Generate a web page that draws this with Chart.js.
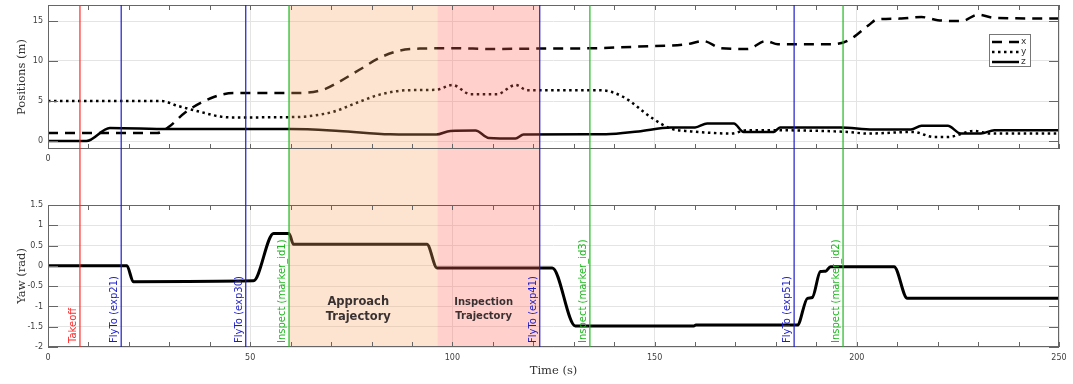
<!DOCTYPE html>
<html>
<head>
<meta charset="utf-8">
<script src="https://cdn.jsdelivr.net/npm/chart.js@4.4.1/dist/chart.umd.min.js"></script>
<style>
  html, body { margin: 0; padding: 0; background: #fff; }
  #wrap { position: relative; width: 1073px; height: 384px; }
  canvas { position: absolute; left: 0; }
  #posChart { top: 0; }
  #yawChart { top: 175px; }
</style>
</head>
<body>
<div id="wrap">
  <canvas id="posChart" width="1073" height="175"></canvas>
  <canvas id="yawChart" width="1073" height="209"></canvas>
</div>
<script>
// positions (m)
var tX   = [0, 27, 30, 34, 41, 46, 62, 68, 72, 77, 82, 87, 92, 100, 110, 121, 135, 146, 158, 162, 166.5, 173, 177.5, 180.5, 194, 198, 203, 205, 211, 216, 220, 226, 230, 234, 250];
var posX = [1, 1, 1.8, 3.6, 5.5, 6, 6, 6.4, 7.4, 8.9, 10.4, 11.3, 11.55, 11.6, 11.5, 11.55, 11.6, 11.8, 12.1, 12.5, 11.6, 11.5, 12.5, 12.1, 12.1, 12.6, 14.5, 15.2, 15.3, 15.5, 15.1, 15.0, 15.8, 15.4, 15.3];

var tY   = [0, 28, 32, 37.6, 42.6, 46, 62, 66, 70.5, 77, 82, 89, 96, 100, 104.5, 111, 115.6, 118.5, 136.6, 142.3, 149, 154, 159, 163, 168.8, 173, 179.5, 197.7, 202.7, 214, 219, 222.5, 229, 233, 250];
var posY = [5, 5, 4.4, 3.65, 3.05, 2.95, 3.0, 3.2, 3.65, 4.9, 5.8, 6.35, 6.4, 7.0, 5.85, 5.85, 7.0, 6.35, 6.35, 5.5, 3.0, 1.55, 1.2, 1.05, 0.93, 1.34, 1.34, 1.13, 0.93, 1.13, 0.5, 0.5, 1.26, 0.93, 0.93];

var tZ   = [0, 9.5, 15.3, 30, 60, 72, 84.6, 96, 99.5, 105.7, 109, 115.6, 117.6, 138, 146, 154, 160, 163, 169.6, 172, 179.5, 181, 196, 204, 213.4, 216, 222.5, 225.7, 230.7, 234, 250];
var posZ = [0, 0, 1.63, 1.5, 1.5, 1.26, 0.84, 0.8, 1.26, 1.3, 0.38, 0.3, 0.8, 0.85, 1.2, 1.68, 1.7, 2.2, 2.2, 1.14, 1.14, 1.68, 1.68, 1.43, 1.43, 1.9, 1.9, 0.93, 0.93, 1.34, 1.34];

// yaw (rad)
var tYaw = [0, 19.5, 21.1, 50.8, 55.8, 59.6, 60.7, 93.7, 96.2, 124.7, 130.4, 159.7, 160.2, 185.3, 187.8, 189, 191, 192.3, 193.5, 209.2, 212.5, 250];
var yaw  = [0, 0, -0.39, -0.37, 0.8, 0.8, 0.53, 0.53, -0.05, -0.05, -1.48, -1.48, -1.46, -1.46, -0.8, -0.78, -0.14, -0.13, -0.02, -0.02, -0.8, -0.8];

// mission events and phases
var eventTimes = [7.9, 18.1, 48.9, 59.6, 121.6, 134.0, 184.5, 196.6];
var eventNames = ['Takeoff', 'FlyTo (exp21)', 'FlyTo (exp30)', 'Inspect (marker_id1)', 'FlyTo (exp41)', 'Inspect (marker_id3)', 'FlyTo (exp51)', 'Inspect (marker_id2)'];
var phaseStart = [59.6, 96.3];
var phaseEnd   = [96.3, 121.6];
var phaseNames = [['Approach', 'Trajectory'], ['Inspection', 'Trajectory']];

// tick labels
var posTicks = [0, 5, 10, 15];
var topTimeLabels = [0];
var timeLabels = [0, 50, 100, 150, 200, 250];

var phaseFill = ['rgba(248,165,98,0.3)', 'rgba(255,98,85,0.3)'];
var phaseFont = ['bold 11.5px "DejaVu Sans"', 'bold 10px "DejaVu Sans"'];
var tickFont = { family: 'DejaVu Sans', size: 8 };
var titleFont = { family: 'DejaVu Serif', size: 11.5 };
var gridCol = '#e4e4e4';

function pts(t, v) {
    return t.map(function (ti, i) { return { x: ti, y: v[i] }; });
}

function eventColor(name) {
    if (name.indexOf('Takeoff') === 0) return '#ff2a2a';
    if (name.indexOf('FlyTo') === 0) return '#1c1ccc';
    return '#1fb81f';
}

function line(c, x0, y0, x1, y1) {
    c.beginPath(); c.moveTo(x0, y0); c.lineTo(x1, y1); c.stroke();
}

function overlay(isTop) {
    return {
        id: 'overlay',
        afterDatasetsDraw: function (chart) {
            var c = chart.ctx, a = chart.chartArea;
            var xs = chart.scales.x, ys = chart.scales.y;
            var y0 = isTop ? a.top : 0;
            var y1 = isTop ? chart.height : a.bottom;
            c.save();

            // shaded phases
            for (var i = 0; i < phaseStart.length; i++) {
                var p0 = xs.getPixelForValue(phaseStart[i]);
                var p1 = xs.getPixelForValue(phaseEnd[i]);
                c.fillStyle = phaseFill[i];
                c.fillRect(p0, y0, p1 - p0, y1 - y0);
            }

            // axes box + inner ticks
            c.strokeStyle = '#666';
            c.lineWidth = 1;
            c.strokeRect(a.left + 0.5, a.top + 0.5, a.right - a.left - 1, a.bottom - a.top - 1);
            xs.ticks.forEach(function (t) {
                var px = Math.round(xs.getPixelForValue(t.value)) + 0.5;
                line(c, px, a.top, px, a.top + 5);
                line(c, px, a.bottom, px, a.bottom - 5);
            });
            ys.ticks.forEach(function (t) {
                var py = Math.round(ys.getPixelForValue(t.value)) + 0.5;
                line(c, a.left, py, a.left + 10, py);
                line(c, a.right, py, a.right - 10, py);
            });

            // event lines
            c.lineWidth = 1.2;
            eventTimes.forEach(function (t, i) {
                var px = xs.getPixelForValue(t);
                c.strokeStyle = eventColor(eventNames[i]);
                line(c, px, y0, px, y1);
            });

            if (!isTop) {
                // event labels
                c.font = '10px "DejaVu Sans"';
                c.textAlign = 'left';
                c.textBaseline = 'alphabetic';
                eventTimes.forEach(function (t, i) {
                    var px = xs.getPixelForValue(t);
                    c.save();
                    c.translate(px - 4, a.bottom - 4);
                    c.rotate(-Math.PI / 2);
                    c.fillStyle = eventColor(eventNames[i]);
                    c.fillText(eventNames[i], 0, 0);
                    c.restore();
                });
                // phase names
                c.fillStyle = '#3a3232';
                c.textAlign = 'center';
                c.textBaseline = 'middle';
                for (var k = 0; k < phaseNames.length; k++) {
                    var cx = xs.getPixelForValue((phaseStart[k] + phaseEnd[k]) / 2) - 5;
                    c.font = phaseFont[k];
                    c.fillText(phaseNames[k][0], cx, ys.getPixelForValue(-0.9));
                    c.fillText(phaseNames[k][1], cx, ys.getPixelForValue(-1.25));
                }
            } else {
                // legend
                var lx = a.right - 70, ly = a.top + 29, lw = 41, lh = 32;
                c.fillStyle = '#fff';
                c.fillRect(lx, ly, lw, lh);
                c.strokeStyle = '#777';
                c.lineWidth = 1;
                c.strokeRect(lx + 0.5, ly + 0.5, lw, lh);
                c.font = '9px "DejaVu Sans"';
                c.textAlign = 'left';
                c.textBaseline = 'middle';
                chart.data.datasets.forEach(function (ds, j) {
                    var ry = ly + 8 + j * 10;
                    c.strokeStyle = '#000';
                    c.lineWidth = ds.borderWidth;
                    c.setLineDash(ds.borderDash || []);
                    line(c, lx + 3, ry, lx + 30, ry);
                    c.setLineDash([]);
                    c.fillStyle = '#333';
                    c.fillText(ds.label, lx + 32, ry);
                });
            }
            c.restore();
        }
    };
}

function noPad(s) {
    s.paddingLeft = 0; s.paddingRight = 0; s.paddingTop = 0; s.paddingBottom = 0;
}

function timeScale(labels, h, pad, title) {
    return {
        type: 'linear', min: 0, max: 250,
        afterFit: function (s) { s.height = h; noPad(s); },
        ticks: {
            stepSize: 10, autoSkip: false, maxRotation: 0, padding: pad,
            font: tickFont, color: '#404040',
            callback: function (v) { return labels.indexOf(v) >= 0 ? String(v) : ''; }
        },
        grid: {
            drawTicks: false,
            color: function (ctx) { return ctx.tick && ctx.tick.value % 50 === 0 ? gridCol : 'rgba(0,0,0,0)'; }
        },
        border: { display: false },
        title: title
    };
}

function valueScale(min, max, step, title, labels) {
    return {
        min: min, max: max,
        afterFit: function (s) { s.width = 48; noPad(s); },
        ticks: {
            stepSize: step, includeBounds: false, padding: 5,
            font: tickFont, color: '#404040',
            callback: function (v) { return labels ? (labels.indexOf(v) >= 0 ? String(v) : '') : String(v); }
        },
        grid: { drawTicks: false, color: gridCol },
        border: { display: false },
        title: { display: true, text: title, font: titleFont, color: '#333', padding: { top: 15, bottom: 0 } }
    };
}

function series(label, data, dash, width) {
    return {
        label: label, data: data, borderColor: '#000', borderWidth: width,
        borderDash: dash, pointRadius: 0, fill: false,
        cubicInterpolationMode: 'monotone'
    };
}

window.onload = function () {
    var common = {
        responsive: false, animation: false, events: [],
        plugins: { legend: { display: false }, tooltip: { enabled: false } }
    };

    new Chart(document.getElementById('posChart').getContext('2d'), {
        type: 'line',
        data: {
            datasets: [
                series('x', pts(tX, posX), [10, 7], 2.5),
                series('y', pts(tY, posY), [2.5, 3.5], 2.5),
                series('z', pts(tZ, posZ), [], 2.5)
            ]
        },
        options: Object.assign({}, common, {
            layout: { padding: { left: 0, right: 14, top: 5, bottom: 0 } },
            scales: {
                x: timeScale(topTimeLabels, 26, 5, { display: false }),
                y: valueScale(-1, 17, 5, 'Positions (m)', posTicks)
            }
        }),
        plugins: [overlay(true)]
    });

    new Chart(document.getElementById('yawChart').getContext('2d'), {
        type: 'line',
        data: {
            datasets: [series('yaw', pts(tYaw, yaw), [], 3)]
        },
        options: Object.assign({}, common, {
            layout: { padding: { left: 0, right: 14, top: 30, bottom: 0 } },
            scales: {
                x: timeScale(timeLabels, 37, 6, {
                    display: true, text: 'Time (s)', font: titleFont, color: '#333',
                    padding: { top: 0, bottom: 6 }
                }),
                y: valueScale(-2, 1.5, 0.5, 'Yaw (rad)', null)
            }
        }),
        plugins: [overlay(false)]
    });
};
</script>
</body>
</html>
